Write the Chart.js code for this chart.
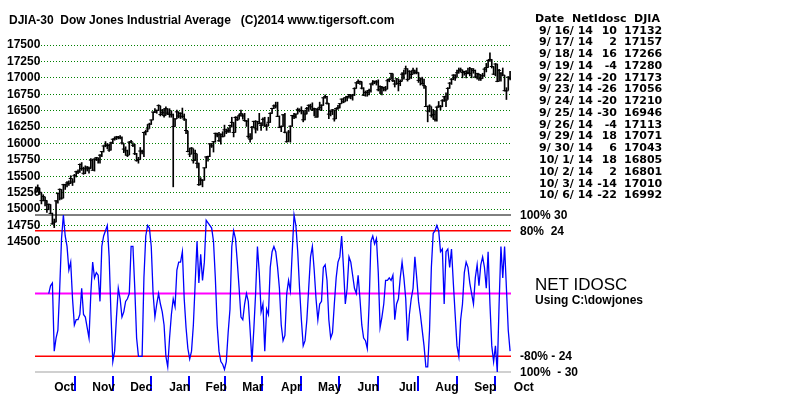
<!DOCTYPE html>
<html>
<head>
<meta charset="utf-8">
<script src="https://cdn.jsdelivr.net/npm/chart.js@4.4.1/dist/chart.umd.min.js"></script>
<style>
html, body { margin: 0; padding: 0; background: #fff; }
#wrap { position: relative; width: 800px; height: 397px; overflow: hidden; }
#c { position: absolute; left: 0; top: 0; }
.t { position: absolute; white-space: pre; font-family: "Liberation Sans", Arial, sans-serif; font-weight: bold; font-size: 12px; line-height: 12px; color: #000; }
.tb { position: absolute; white-space: pre; font-family: "DejaVu Sans", sans-serif; font-weight: bold; font-size: 11px; line-height: 11px; color: #000; }
.big { position: absolute; white-space: pre; font-family: "Liberation Sans", Arial, sans-serif; font-size: 17px; line-height: 17px; color: #000; }
</style>
</head>
<body>
<div id="wrap">
  <canvas id="c" width="800" height="397"></canvas>
  <div class="t" style="left:9px;top:14px;">DJIA-30  Dow Jones Industrial Average   (C)2014 www.tigersoft.com</div>
  <div class="t" style="left:520px;top:209px;">100% 30</div>
  <div class="t" style="left:520px;top:225px;">80%  24</div>
  <div class="big" style="left:535px;top:276px;">NET IDOSC</div>
  <div class="t" style="left:535px;top:294px;">Using C:\dowjones</div>
  <div class="t" style="left:520px;top:350px;">-80% - 24</div>
  <div class="t" style="left:520px;top:366px;">100%  - 30</div>
  <div id="table"></div>
</div>
<script>
// DJIA daily bars, 9/25/13 .. 10/6/14 (one entry per trading day)
const closes = [
  15273, 15328, 15258, 15130,
  15191, 15133, 14996, 15073, 14936, 14776, 14802, 15126, 15237, 15301, 15168, 15373, 15371, 15399, 15392, 15467, 15413, 15509, 15570, 15568, 15680, 15618, 15546,
  15615, 15639, 15618, 15746, 15593, 15762, 15783, 15751, 15822, 15876, 15962, 15976, 15968, 15900, 16009, 16065, 16073, 16098, 16097, 16086,
  16008, 15915, 15889, 15821, 16020, 16025, 15973, 15844, 15739, 15755, 15885, 15875, 16168, 16179, 16221, 16294, 16358, 16479, 16478, 16505, 16577,
  16441, 16469, 16425, 16530, 16463, 16444, 16437, 16257, 16374, 16482, 16418, 16459, 16414, 16373, 16198, 15879, 15838, 15929, 15739, 15849, 15699,
  15373, 15445, 15441, 15629, 15795, 15802, 15995, 15964, 16028, 16154, 16130, 16041, 16134, 16104, 16208, 16180, 16199, 16273, 16322,
  16168, 16396, 16361, 16422, 16453, 16419, 16351, 16341, 16109, 16066, 16247, 16337, 16223, 16332, 16303, 16277, 16368, 16268, 16264, 16323, 16458,
  16533, 16573, 16572, 16413, 16246, 16257, 16437, 16171, 16027, 16174, 16263, 16425, 16409, 16449, 16515, 16502, 16502, 16361, 16449, 16535, 16581,
  16559, 16513, 16531, 16402, 16519, 16551, 16583, 16696, 16715, 16614, 16447, 16492, 16512, 16375, 16533, 16543, 16606, 16676, 16634, 16698, 16717,
  16743, 16722, 16738, 16836, 16924, 16943, 16945, 16843, 16735, 16776, 16781, 16808, 16907, 16921, 16947, 16937, 16818, 16868, 16846, 16851, 16827,
  16956, 16976, 17068, 16956, 16906, 16985, 16915, 16944, 17055, 17060, 17138, 16976, 17100, 17052, 17114, 17087, 17084, 16961, 16983, 16913, 16881, 16563,
  16493, 16569, 16430, 16443, 16368, 16554, 16570, 16561, 16651, 16713, 16662, 16839, 16919, 16979, 17040, 17001, 17077, 17107, 17122, 17080, 17098,
  17067, 17079, 17069, 17138, 17111, 17014, 17068, 17049, 16988, 17032, 17132, 17157, 17266, 17280, 17173, 17056, 17210, 16946, 17113, 17071, 17043,
  16805, 16801, 17010, 16992
];
const highs = [
  15340, 15370, 15320, 15255,
  15220, 15185, 15130, 15080, 15070, 14940, 14850, 15130, 15250, 15310, 15300, 15380, 15380, 15420, 15430, 15510, 15460, 15530, 15580, 15600, 15690, 15710, 15640,
  15660, 15650, 15640, 15770, 15760, 15770, 15790, 15780, 15830, 15880, 15965, 16030, 16000, 15990, 16020, 16070, 16100, 16110, 16110, 16120,
  16100, 16000, 15950, 15900, 16030, 16050, 16010, 15990, 15850, 15790, 15940, 15900, 16170, 16200, 16290, 16310, 16360, 16480, 16530, 16510, 16590,
  16570, 16520, 16530, 16560, 16530, 16530, 16500, 16450, 16380, 16510, 16480, 16470, 16540, 16450, 16370, 16190, 15930, 15940, 15920, 15900, 15840,
  15700, 15480, 15450, 15630, 15800, 15810, 16000, 16000, 16030, 16160, 16160, 16170, 16150, 16180, 16280, 16220, 16240, 16280, 16400,
  16320, 16410, 16410, 16450, 16510, 16450, 16460, 16350, 16380, 16150, 16260, 16340, 16350, 16340, 16460, 16320, 16390, 16400, 16300, 16400, 16470,
  16540, 16590, 16630, 16630, 16420, 16270, 16440, 16460, 16160, 16200, 16270, 16430, 16460, 16450, 16540, 16530, 16560, 16500, 16510, 16550, 16590,
  16600, 16620, 16540, 16530, 16540, 16630, 16590, 16700, 16740, 16720, 16610, 16500, 16520, 16510, 16540, 16580, 16610, 16680, 16690, 16700, 16720,
  16750, 16740, 16750, 16850, 16930, 16970, 16950, 16940, 16850, 16800, 16810, 16830, 16910, 16960, 16950, 16960, 16970, 16880, 16870, 16860, 16870,
  16980, 16990, 17070, 17060, 16960, 16990, 16980, 16970, 17080, 17120, 17180, 17140, 17110, 17100, 17150, 17120, 17150, 17080, 17000, 17010, 16980, 16870,
  16570, 16590, 16560, 16520, 16500, 16560, 16640, 16580, 16670, 16720, 16770, 16850, 16930, 16990, 17050, 17050, 17120, 17150, 17150, 17120, 17100,
  17110, 17150, 17160, 17140, 17140, 17120, 17070, 17060, 17050, 17070, 17150, 17220, 17270, 17380, 17280, 17170, 17220, 17210, 17130, 17080, 17150,
  17040, 16850, 17020, 17100
];
const lows = [
  15250, 15270, 15225, 15080,
  15125, 15050, 14950, 14990, 14930, 14770, 14719, 14805, 15090, 15140, 15150, 15170, 15300, 15340, 15360, 15390, 15360, 15410, 15490, 15540, 15560, 15590, 15530,
  15540, 15580, 15550, 15620, 15590, 15580, 15740, 15700, 15700, 15800, 15870, 15950, 15920, 15880, 15900, 16000, 16050, 16060, 16070, 16070,
  15990, 15860, 15820, 15800, 15830, 16010, 15950, 15830, 15730, 15700, 15760, 15840, 15800, 16130, 16180, 16230, 16290, 16360, 16470, 16460, 16500,
  16420, 16440, 16400, 16430, 16440, 16400, 16400, 15340, 16260, 16380, 16390, 16380, 16390, 16350, 16150, 15870, 15800, 15840, 15700, 15740, 15630,
  15360, 15370, 15340, 15440, 15630, 15730, 15800, 15940, 15870, 16020, 16100, 16030, 15990, 16100, 16110, 16150, 16170, 16170, 16250,
  16100, 16170, 16350, 16370, 16420, 16370, 16340, 16260, 16080, 16020, 16070, 16240, 16160, 16200, 16300, 16200, 16280, 16260, 16200, 16270, 16320,
  16460, 16530, 16540, 16410, 16240, 16180, 16260, 16160, 16020, 16030, 16020, 16260, 16380, 16390, 16450, 16480, 16450, 16330, 16360, 16450, 16490,
  16520, 16500, 16420, 16400, 16400, 16510, 16500, 16580, 16690, 16600, 16380, 16420, 16440, 16340, 16380, 16520, 16540, 16610, 16620, 16640, 16650,
  16690, 16680, 16660, 16730, 16840, 16910, 16900, 16830, 16730, 16720, 16720, 16740, 16780, 16890, 16910, 16890, 16800, 16760, 16740, 16800, 16800,
  16830, 16940, 16980, 16940, 16860, 16900, 16800, 16880, 16950, 16980, 17060, 16950, 16980, 16990, 17060, 17060, 17060, 16930, 16890, 16900, 16840, 16560,
  16330, 16480, 16400, 16370, 16340, 16340, 16550, 16510, 16560, 16640, 16560, 16670, 16840, 16900, 16970, 16960, 17010, 17070, 17090, 17000, 17040,
  17000, 17060, 17030, 17000, 17070, 17000, 16980, 16960, 16960, 16990, 17020, 17090, 17160, 17250, 17150, 17050, 17030, 16940, 16950, 16950, 17030,
  16800, 16670, 16810, 16970
];

// Net IDOSC, same days (starts a week late)
const netIdosc = [
  null, null, null, null, null, null, null, 0, 3, 4, -22, -17, -14, 2, 21, 30, 22, 18, 9, 12,
  -2, -12, -10, -10, -8, 2, -8, -9, -13, -17, 0, 12, 6, 8, 7, -3, 18, 22, 24, 26,
  14, -8, -26, -22, -9, 2, -2, -9, -7, -3, -2, 0, 18, 18, 2, -17, -24, -24, -24, 6,
  22, 26, 25, 18, 0, -9, -4, 0, -4, -7, -12, -24, -28, -17, -8, -2, -5, 9, 12, 12,
  16, -2, -13, -21, -25, -22, -12, 4, 20, 4, 15, 5, 12, 28, 27, 26, 25, 20, 6, -12,
  -22, -26, -27, -29, -26, -15, -6, 18, 24, 21, 12, 2, -9, -10, -4, 0, -3, -14, -26, -14,
  0, 18, 8, -7, -4, -22, -6, -8, 10, 16, 18, 16, 10, 2, -12, -18, -16, 0, 5, 1,
  16, 30, 26, 16, 2, -10, -20, -18, -10, 2, 14, 18, 9, -2, -10, -4, -3, 10, 11, 5,
  -10, -17, -15, -4, 6, 12, 14, 22, 10, -4, 2, 14, 12, 7, 2, 0, 7, -2, -12, -17,
  -18, -21, -4, 20, 22, 19, 21, 8, -13, -9, -4, 5, 5, 6, 5, 7, -10, -4, -2, 6,
  12, 6, -2, -18, -8, -2, 2, 14, 6, -3, -8, -14, -20, -28, -28, -14, 10, 23, 24, 26,
  24, 16, 17, -4, 16, 17, 10, 17, 4, -8, -20, -24, -10, -4, 8, 12, 10, 4, 0, -4,
  6, 11, 3, 11, 14, 10, 2, 16, -4, -20, -26, -20, -30, -4, 18, 6, 18, 2, -14, -22
];

const tableDates = ['9/ 16/ 14', '9/ 17/ 14', '9/ 18/ 14', '9/ 19/ 14', '9/ 22/ 14', '9/ 23/ 14', '9/ 24/ 14', '9/ 25/ 14',
  '9/ 26/ 14', '9/ 29/ 14', '9/ 30/ 14', '10/ 1/ 14', '10/ 2/ 14', '10/ 3/ 14', '10/ 6/ 14'];

const monthNames = ['Oct', 'Nov', 'Dec', 'Jan', 'Feb', 'Mar', 'Apr', 'May', 'Jun', 'Jul', 'Aug', 'Sep', 'Oct'];
const monthStarts = [4, 27, 47, 68, 89, 108, 129, 150, 171, 192, 214, 235, 256]; // first trading day index
const priceTicks = [14500, 14750, 15000, 15250, 15500, 15750, 16000, 16250, 16500, 16750, 17000, 17250, 17500];
const oscLevels = [30, 24, 0, -24, -30];
const levelColors = ['#000000', '#ff0000', '#ff00ff', '#ff0000', '#c0c0c0'];
const levelWidths = [1, 1.5, 2, 1.5, 1.5];

const FONT = '"Liberation Sans", Arial, sans-serif';

// month ticks: a mark at each month start, the name half way to the next one
const xTicks = [];
monthStarts.forEach((s, k) => {
    const next = k < monthStarts.length - 1 ? monthStarts[k + 1] : s + 21;
    xTicks.push({ value: s, start: true });
    xTicks.push({ value: (s + next) / 2, name: monthNames[k] });
});

const barData = closes.map((c, i) => ({ x: i, y: [lows[i], highs[i]] }));
const closeData = closes.map((c, i) => ({ x: i, y: c }));
const oscData = netIdosc.map((v, i) => ({ x: i, y: v }));

const levelSets = oscLevels.map((lv, k) => ({
    type: 'line',
    data: [{ x: -1, y: lv }, { x: 261, y: lv }],
    yAxisID: 'yo',
    borderColor: levelColors[k],
    backgroundColor: levelColors[k],
    borderWidth: levelWidths[k],
    pointRadius: 0
}));

const ctx = document.getElementById('c').getContext('2d');
const chart = new Chart(ctx, {
    type: 'bar',
    data: {
        datasets: [
            {
                type: 'line',
                data: oscData,
                yAxisID: 'yo',
                borderColor: '#0000ff',
                borderWidth: 1.3,
                pointRadius: 0,
                tension: 0
            },
            {
                type: 'line',
                data: closeData,
                yAxisID: 'yp',
                showLine: false,
                pointStyle: 'line',
                pointRadius: 2,
                pointBorderWidth: 1,
                pointBorderColor: '#000',
                pointBackgroundColor: '#000'
            },
            {
                type: 'bar',
                data: barData,
                yAxisID: 'yp',
                backgroundColor: '#000',
                barThickness: 1
            },
            ...levelSets
        ]
    },
    options: {
        responsive: false,
        animation: false,
        events: [],
        layout: { padding: { left: 0, right: 289, top: 20, bottom: 0 } },
        scales: {
            x: {
                type: 'linear',
                position: 'bottom',
                min: -0.5,
                max: 259.5,
                offset: false,
                afterFit: (s) => { s.height = 21; },
                afterBuildTicks: (s) => { s.ticks = xTicks.map(t => Object.assign({}, t)); },
                grid: {
                    drawOnChartArea: false,
                    drawTicks: true,
                    tickLength: 15,
                    lineWidth: 2,
                    tickWidth: 2,
                    color: (c) => (c.tick && c.tick.start) ? '#0000ff' : 'rgba(0,0,0,0)',
                    tickColor: (c) => (c.tick && c.tick.start) ? '#0000ff' : 'rgba(0,0,0,0)'
                },
                border: { display: false },
                ticks: {
                    autoSkip: false,
                    maxRotation: 0,
                    minRotation: 0,
                    padding: -11,
                    color: '#000',
                    font: { family: FONT, weight: 'bold', size: 12 },
                    callback: (v, i, ticks) => ticks[i].name || ''
                }
            },
            yp: {
                type: 'linear',
                position: 'left',
                min: 12459,
                max: 17881,
                afterFit: (s) => { s.width = 35; },
                afterBuildTicks: (s) => { s.ticks = priceTicks.map(v => ({ value: v })); },
                grid: { color: '#008000', lineWidth: 1, drawTicks: false },
                border: { display: false, dash: [1, 2] },
                ticks: {
                    mirror: true,
                    crossAlign: 'far',
                    padding: -28,
                    color: '#000',
                    font: { family: FONT, weight: 'bold', size: 12 },
                    callback: (v) => String(v)
                }
            },
            yo: {
                type: 'linear',
                display: false,
                min: -31.5,
                max: 104.5
            }
        },
        plugins: {
            legend: { display: false },
            tooltip: { enabled: false }
        }
    }
});

// the last 15 days, listed at the right
const tbl = document.getElementById('table');
let html = '<div class="tb" style="left:535px;top:13px;">Date  NetIdosc  DJIA</div>';
const first = closes.length - tableDates.length;
tableDates.forEach((d, k) => {
    const top = Math.round(24.5 + k * 11.77);
    const i = first + k;
    html += '<div class="tb" style="left:539px;top:' + top + 'px;">' + d + '</div>';
    html += '<div class="tb" style="left:590px;width:27px;text-align:right;top:' + top + 'px;">' + netIdosc[i] + '</div>';
    html += '<div class="tb" style="left:624px;top:' + top + 'px;">' + closes[i] + '</div>';
});
tbl.innerHTML = html;
</script>
</body>
</html>
